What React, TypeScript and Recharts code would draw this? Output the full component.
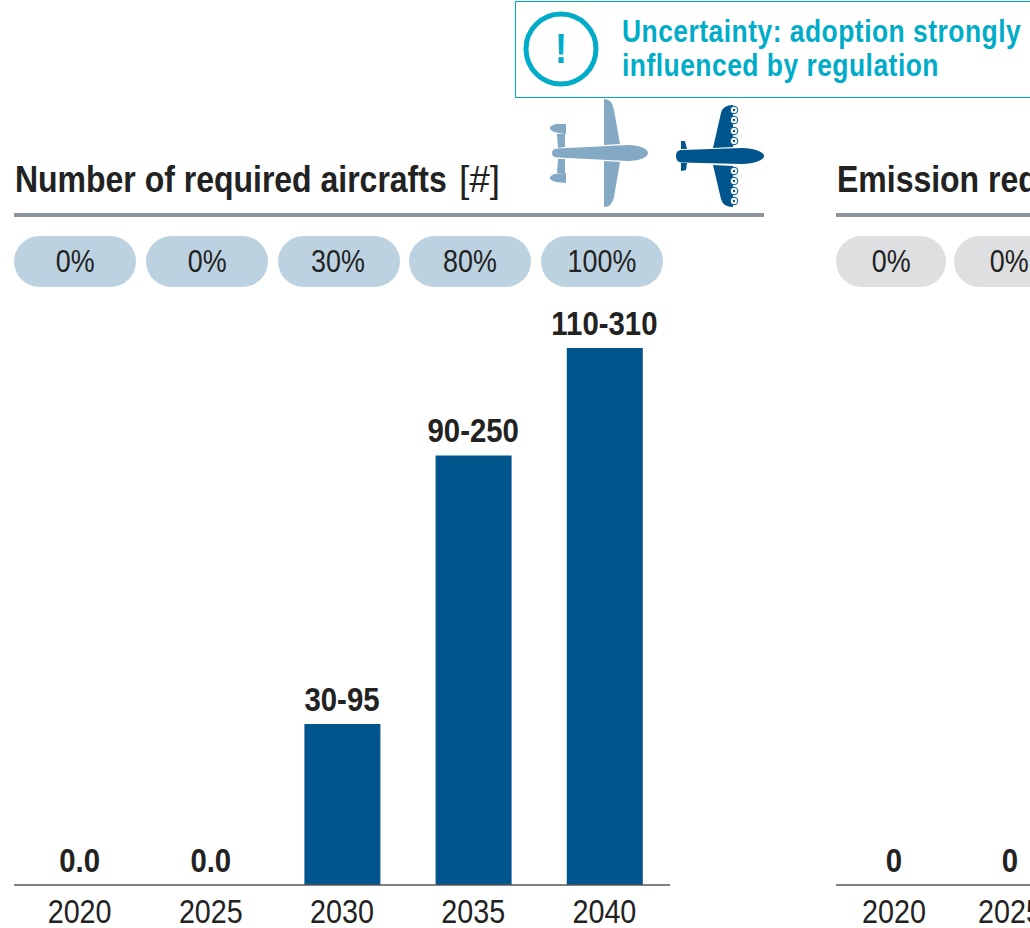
import { ComposedChart, Bar, Line, XAxis, YAxis, LabelList } from "recharts"

const SANS = "'Liberation Sans', Arial, sans-serif"
const INK = "#222222"
const BLUE = "#00558c"
const CYAN = "#00acc8"

const aircraftYears = ["2020", "2025", "2030", "2035", "2040"]
const aircraftValues = [0, 0, 93, 248, 310]
const aircraftLabels = ["0.0", "0.0", "30-95", "90-250", "110-310"]
const aircraftShares = ["0%", "0%", "30%", "80%", "100%"]

// only the first two years of the second panel are inside the picture
const emissionYears = ["2020", "2025"]
const emissionValues = [0, 0]
const emissionLabels = ["0", "0"]
const emissionShares = ["0%", "0%"]

const aircraftData = aircraftYears.map((year, i) => ({ year, value: aircraftValues[i], label: aircraftLabels[i] }))
const emissionData = emissionYears.map((year, i) => ({ year, value: emissionValues[i], label: emissionLabels[i] }))

// no narrow font is installed, so text gets squeezed horizontally
function YearTick({ x, y, payload }: any) {
  return (
    <text transform={`translate(${x},${y + 32}) scale(0.87,1)`} textAnchor="middle" fontSize={33} fill={INK} fontFamily={SANS}>
      {payload.value}
    </text>
  )
}

function ValueLabel({ x, y, value }: any) {
  return (
    <text transform={`translate(${x},${y - 13}) scale(0.89,1)`} textAnchor="middle" fontSize={33} fontWeight={700} fill={INK} fontFamily={SANS}>
      {value}
    </text>
  )
}

function Squeezed({ left, top, size, sx, bold, color, children }: any) {
  return (
    <div style={{
      position: "absolute", left, top, fontSize: size, lineHeight: `${size + 3}px`, fontWeight: bold ? 700 : 400,
      color, whiteSpace: "nowrap", transform: `scaleX(${sx})`, transformOrigin: "left top", fontFamily: SANS,
    }}>{children}</div>
  )
}

function Pill({ left, width, bg, text }: { left: number; width: number; bg: string; text: string }) {
  return (
    <div style={{
      position: "absolute", left, top: 236, width, height: 51, borderRadius: 26, background: bg,
      textAlign: "center", lineHeight: "51px", fontSize: 32, color: INK, fontFamily: SANS,
    }}>
      <span style={{ display: "inline-block", transform: "scaleX(0.84)" }}>{text}</span>
    </div>
  )
}

function Panel({ left, width, data, domainMax }: { left: number; width: number; data: any[]; domainMax: number }) {
  return (
    <div style={{ position: "absolute", left, top: 300 }}>
      <ComposedChart width={width} height={628} data={data} margin={{ top: 48, right: 0, bottom: 0, left: 0 }} barCategoryGap={0}>
        <YAxis hide domain={[0, domainMax]} />
        <XAxis
          dataKey="year" height={43} interval={0} tickLine={false} tickMargin={0}
          axisLine={{ stroke: "#555555", strokeWidth: 1.5 }}
          tick={<YearTick />}
        />
        <Bar dataKey="value" fill={BLUE} barSize={76} isAnimationActive={false} />
        <Line dataKey="value" stroke="none" dot={false} activeDot={false} legendType="none" isAnimationActive={false}>
          <LabelList dataKey="label" content={<ValueLabel />} />
        </Line>
      </ComposedChart>
    </div>
  )
}

function Planes() {
  const rotors = [110, 120, 131, 141, 171, 181, 191, 201]
  return (
    <svg width={230} height={115} viewBox="540 96 230 115" style={{ position: "absolute", left: 540, top: 96 }}>
      <g fill="#84a9c5">
        <path d="M552 153 C552 150 554 148.5 558 148.5 L628 145 C640 145 648 149 648 153 C648 157 640 161 628 161 L558 157.5 C554 157.5 552 156 552 153 Z" />
        <path d="M604 99 Q612 99 614 110 L620 144 L604 145 Z" />
        <path d="M604 161 L620 162 L614 197 Q612 207 604 207 Z" />
        <path d="M566 124 L556 124 Q549 126 550 129 Q552 133 566 134 Z" />
        <path d="M557 134 L565 134 L565 147 L558 148 Z" />
        <path d="M566 183 L556 182 Q549 180 550 177 Q552 173 566 173 Z" />
        <path d="M558 159 L565 159 L565 173 L557 173 Z" />
      </g>
      <g fill={BLUE}>
        <path d="M676 156 C676 152 678 150 682 150 L742 148 C754 148 764 152 764 156 C764 160 754 164 742 164 L682 162.5 C678 162.5 676 160 676 156 Z" />
        <path d="M713 148 L721 113 Q723 105 733 105 L733 147 Z" />
        <path d="M713 165 L721 199 Q723 207 733 207 L733 166 Z" />
        <path d="M681 141 L685 141 L687 149 L681 149 Z" />
        <path d="M681 163 L687 163 L686 170 L681 171 Z" />
      </g>
      {rotors.map((y) => (
        <g key={y}>
          <circle cx={734} cy={y} r={3.8} fill="#ffffff" stroke={BLUE} strokeWidth={1} />
          <circle cx={734} cy={y} r={1.2} fill={BLUE} />
        </g>
      ))}
    </svg>
  )
}

export default function App() {
  return (
    <div style={{ position: "absolute", left: 0, top: 0, width: 1030, height: 928, overflow: "hidden", background: "#ffffff", fontFamily: SANS }}>
      {/* callout */}
      <svg width={530} height={100} style={{ position: "absolute", left: 510, top: 0 }}>
        <rect x={5.5} y={1.5} width={600} height={96} fill="none" stroke="#00acc8" strokeWidth={1} shapeRendering="crispEdges" />
        <circle cx={51} cy={49} r={35} fill="none" stroke={CYAN} strokeWidth={5} />
        <text transform="translate(51,63) scale(0.85,1)" textAnchor="middle" fontSize={42} fontWeight={700} fill={CYAN} fontFamily={SANS}>!</text>
      </svg>
      <Squeezed left={622} top={14} size={32} sx={0.825} bold color={CYAN}>
        <div style={{ letterSpacing: 0.6, lineHeight: "34px" }}>Uncertainty: adoption strongly<br />influenced by regulation</div>
      </Squeezed>

      <Planes />

      {/* panel titles */}
      <Squeezed left={15} top={160} size={37} sx={0.864} bold color={INK}>Number of required aircrafts</Squeezed>
      <Squeezed left={459} top={160} size={37} sx={1} color={INK}>[#]</Squeezed>
      <div style={{ position: "absolute", left: 14, top: 213, width: 750, height: 4, background: "#8e949c" }} />
      <Squeezed left={837} top={160} size={37} sx={0.864} bold color={INK}>Emission reduction</Squeezed>
      <div style={{ position: "absolute", left: 836, top: 213, width: 300, height: 4, background: "#8e949c" }} />

      {aircraftShares.map((s, i) => (
        <Pill key={i} left={14 + i * 131.75} width={122} bg="#bdd2e0" text={s} />
      ))}
      {emissionShares.map((s, i) => (
        <Pill key={i} left={836 + i * 118} width={110} bg="#dddfe1" text={s} />
      ))}

      <Panel left={13.5} width={656} data={aircraftData} domainMax={310} />
      <Panel left={836} width={232} data={emissionData} domainMax={310} />
    </div>
  )
}
